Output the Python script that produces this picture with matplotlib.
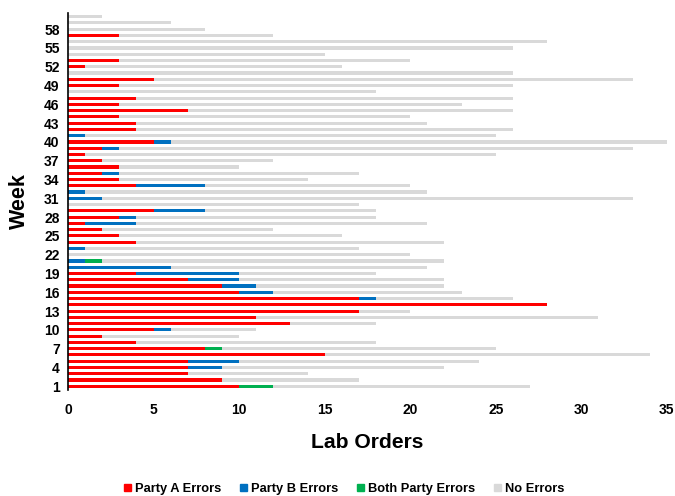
import matplotlib
matplotlib.use("Agg")
import matplotlib.pyplot as plt
import numpy as np
from matplotlib.patches import Patch

weeks = list(range(1, 61))
party_a = [10, 9, 7, 7, 7, 15, 8, 4, 2, 5,
           13, 11, 17, 28, 17, 10, 9, 7, 4, 0,
           0, 0, 0, 4, 3, 2, 1, 3, 5, 0,
           0, 0, 4, 3, 2, 3, 2, 1, 2, 5,
           0, 4, 4, 3, 7, 3, 4, 0, 3, 5,
           0, 1, 3, 0, 0, 0, 3, 0, 0, 0]
party_b = [0, 0, 0, 2, 3, 0, 0, 0, 0, 1,
           0, 0, 0, 0, 1, 2, 2, 3, 6, 6,
           1, 0, 1, 0, 0, 0, 3, 1, 3, 0,
           2, 1, 4, 0, 1, 0, 0, 0, 1, 1,
           1, 0, 0, 0, 0, 0, 0, 0, 0, 0,
           0, 0, 0, 0, 0, 0, 0, 0, 0, 0]
both = [2, 0, 0, 0, 0, 0, 1, 0, 0, 0,
        0, 0, 0, 0, 0, 0, 0, 0, 0, 0,
        1, 0, 0, 0, 0, 0, 0, 0, 0, 0,
        0, 0, 0, 0, 0, 0, 0, 0, 0, 0,
        0, 0, 0, 0, 0, 0, 0, 0, 0, 0,
        0, 0, 0, 0, 0, 0, 0, 0, 0, 0]
totals = [27, 17, 14, 22, 24, 34, 25, 18, 10, 11,
          18, 31, 20, 28, 26, 23, 22, 22, 18, 21,
          22, 20, 17, 22, 16, 12, 21, 18, 18, 17,
          33, 21, 20, 14, 17, 10, 12, 25, 33, 35,
          25, 26, 21, 20, 26, 23, 26, 18, 26, 33,
          26, 16, 20, 15, 26, 28, 12, 8, 6, 2]
no_err = [t - a - b - c for t, a, b, c in zip(totals, party_a, party_b, both)]

plt.rcParams['font.family'] = ['Liberation Sans', 'DejaVu Sans']
plt.rcParams['font.weight'] = 'bold'

fig = plt.figure(figsize=(6.75, 4.96), dpi=100)
ax = fig.add_axes([0.1007, 0.2137, 0.8873, 0.7603])

red, blue, green, gray = '#FF0000', '#0070C0', '#00B050', '#D9D9D9'
h = 0.5
y = np.array(weeks)
a = np.array(party_a); b = np.array(party_b); c = np.array(both); n = np.array(no_err)
ax.barh(y, a, height=h, color=red, label='Party A Errors')
ax.barh(y, b, height=h, left=a, color=blue, label='Party B Errors')
ax.barh(y, c, height=h, left=a + b, color=green, label='Both Party Errors')
ax.barh(y, n, height=h, left=a + b + c, color=gray, label='No Errors')

ax.set_xlim(0, 35)
ax.set_ylim(0.4, 60.6)
ax.set_xticks(range(0, 36, 5))
ax.set_yticks(range(1, 61, 3))
ax.tick_params(axis='both', length=0, labelsize=10)
ax.tick_params(axis='x', pad=9)
ax.tick_params(axis='y', pad=6)
for lab in ax.get_xticklabels() + ax.get_yticklabels():
    lab.set_fontweight('bold')
for s in ['top', 'right', 'bottom']:
    ax.spines[s].set_visible(False)
ax.spines['left'].set_color('black')
ax.spines['left'].set_linewidth(1.2)

ax.set_xlabel('Lab Orders', fontsize=15.2, fontweight='bold', labelpad=12)
ax.set_ylabel('Week', fontsize=15.5, fontweight='bold', labelpad=10)

handles = [Patch(color=red), Patch(color=blue), Patch(color=green), Patch(color=gray)]
labels = ['Party A Errors', 'Party B Errors', 'Both Party Errors', 'No Errors']
fig.legend(handles, labels, loc='center', bbox_to_anchor=(0.51, 0.014), ncol=4,
           frameon=False, handlelength=0.55, handleheight=0.55,
           handletextpad=0.3, columnspacing=1.45, prop={'weight': 'bold', 'size': 9.3})

fig.savefig('out.png', dpi=100)
